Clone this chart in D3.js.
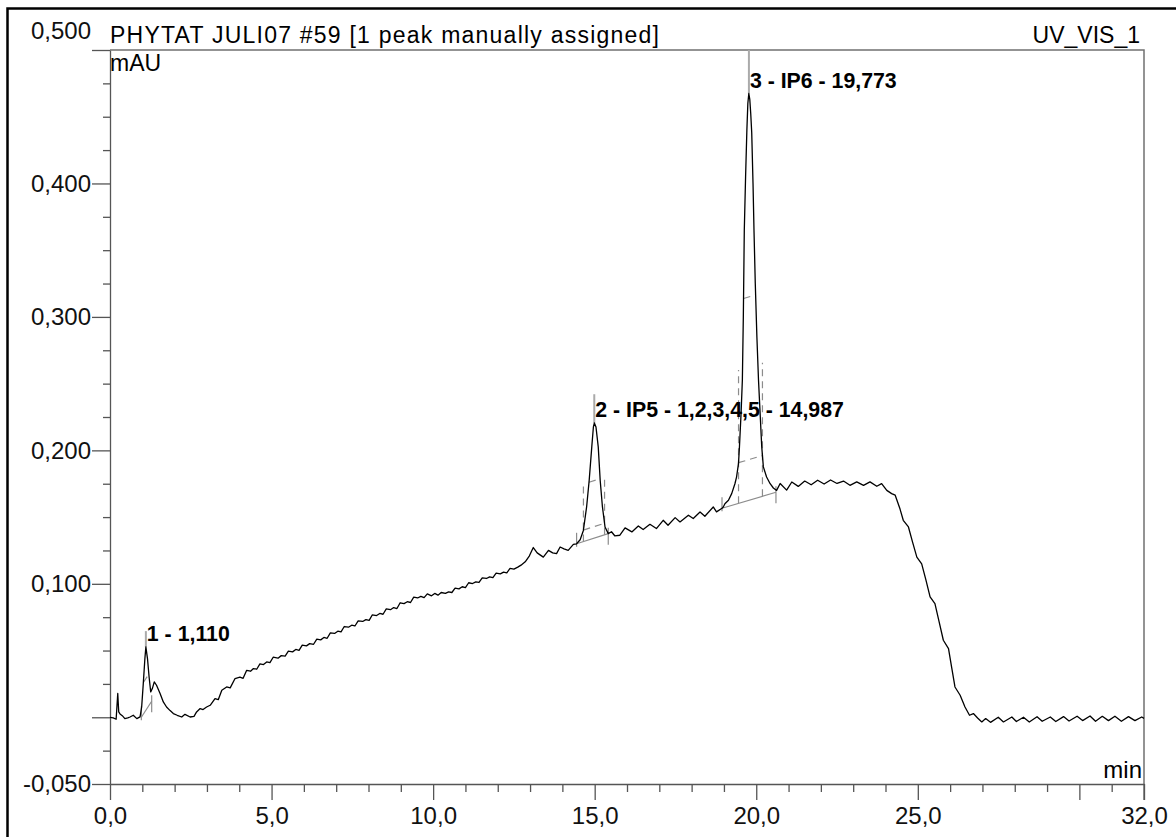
<!DOCTYPE html>
<html>
<head>
<meta charset="utf-8">
<script src="https://d3js.org/d3.v7.min.js"></script>
<style>
body { margin: 0; background: #fff; }
svg { display: block; font-family: "Liberation Sans", Arial, Helvetica, sans-serif; }
</style>
</head>
<body>
<svg width="1176" height="837"></svg>
<script>
// ****** Data ******
// Texts
var titleText = "PHYTAT JULI07 #59 [1 peak manually assigned]";
var channelText = "UV_VIS_1";
var yUnitText = "mAU";
var xUnitText = "min";

// Axis ticks (labels with comma decimals, some major ticks without label)
var yMajorTicks = [0.5, 0.4, 0.3, 0.2, 0.1, 0, -0.05];
var yUnlabeled = [0];
var xMajorTicks = [0, 5, 10, 15, 20, 25, 30, 32];
var xUnlabeled = [30];

// Trace, [min, signal], piece by piece
var traceStart = [[0.00, 0.0000], [0.10, -0.0005], [0.19, -0.0015], [0.24, 0.0178], [0.27, 0.0040],
    [0.31, 0.0025], [0.38, 0.0012], [0.46, -0.0010], [0.55, -0.0005], [0.62, 0.0002], [0.72, 0.0015],
    [0.83, -0.0010], [0.93, 0.0003]];
var tracePeak1 = [[0.98, 0.0077], [1.03, 0.0252], [1.08, 0.0440], [1.11, 0.0527], [1.16, 0.0440],
    [1.21, 0.0302], [1.26, 0.0190], [1.31, 0.0215], [1.37, 0.0265], [1.44, 0.0240], [1.55, 0.0178],
    [1.65, 0.0115], [1.75, 0.0077], [1.86, 0.0050], [1.96, 0.0028], [2.08, 0.0015], [2.22, 0.0002],
    [2.32, 0.0022], [2.48, 0.0002], [2.60, 0.0007]];
var traceRamp = [[2.68, 0.0040], [2.79, 0.0065], [2.88, 0.0058], [2.99, 0.0077], [3.10, 0.0090],
    [3.25, 0.0140], [3.35, 0.0132], [3.46, 0.0202], [3.61, 0.0227], [3.72, 0.0220], [3.87, 0.0290],
    [4.02, 0.0300], [4.12, 0.0292], [4.23, 0.0352], [4.35, 0.0345], [4.44, 0.0365], [4.54, 0.0360],
    [4.64, 0.0400], [4.75, 0.0395], [4.85, 0.0415], [4.95, 0.0410], [5.05, 0.0450], [5.20, 0.0443],
    [5.30, 0.0462], [5.42, 0.0458], [5.52, 0.0495], [5.65, 0.0490], [5.75, 0.0508], [5.85, 0.0502],
    [5.95, 0.0540], [6.08, 0.0535], [6.18, 0.0552], [6.30, 0.0547], [6.40, 0.0585], [6.52, 0.0580],
    [6.62, 0.0598], [6.72, 0.0592], [6.82, 0.0632], [6.95, 0.0628], [7.05, 0.0645], [7.15, 0.0640],
    [7.25, 0.0680], [7.38, 0.0675], [7.48, 0.0690], [7.58, 0.0684], [7.68, 0.0722], [7.82, 0.0718],
    [7.92, 0.0732], [8.02, 0.0726], [8.12, 0.0768], [8.25, 0.0762], [8.35, 0.0778], [8.45, 0.0772],
    [8.55, 0.0812], [8.68, 0.0806], [8.78, 0.0822], [8.88, 0.0815], [8.98, 0.0858], [9.10, 0.0852],
    [9.20, 0.0866], [9.30, 0.0860], [9.40, 0.0900], [9.52, 0.0894], [9.62, 0.0906], [9.72, 0.0896],
    [9.82, 0.0925], [9.95, 0.0910], [10.05, 0.0928], [10.15, 0.0915], [10.25, 0.0935], [10.38, 0.0928],
    [10.48, 0.0940], [10.58, 0.0935], [10.68, 0.0968], [10.80, 0.0962], [10.90, 0.0978], [11.00, 0.0972],
    [11.10, 0.1008], [11.22, 0.1002], [11.32, 0.1015], [11.42, 0.1010], [11.52, 0.1045], [11.65, 0.1040],
    [11.75, 0.1052], [11.85, 0.1046], [11.95, 0.1080], [12.08, 0.1075], [12.18, 0.1088], [12.28, 0.1082],
    [12.38, 0.1115], [12.50, 0.1110], [12.62, 0.1125], [12.72, 0.1140], [12.85, 0.1165], [12.98, 0.1210],
    [13.10, 0.1272], [13.22, 0.1232], [13.41, 0.1200], [13.57, 0.1251], [13.70, 0.1232], [13.82, 0.1226],
    [13.93, 0.1276], [14.05, 0.1262], [14.18, 0.1251], [14.34, 0.1296]];
var tracePeak2 = [[14.44, 0.1300], [14.55, 0.1330], [14.65, 0.1400], [14.75, 0.1576], [14.83, 0.1776],
    [14.91, 0.2026], [14.96, 0.2175], [14.99, 0.2205], [15.04, 0.2175], [15.11, 0.2026], [15.17, 0.1776],
    [15.24, 0.1576], [15.32, 0.1426], [15.42, 0.1376]];
var traceMid = [[15.52, 0.1390], [15.62, 0.1360], [15.78, 0.1364], [15.94, 0.1419], [16.15, 0.1389],
    [16.35, 0.1434], [16.50, 0.1407], [16.71, 0.1446], [16.91, 0.1414], [17.12, 0.1476], [17.27, 0.1439],
    [17.49, 0.1496], [17.64, 0.1464], [17.90, 0.1514], [18.05, 0.1489], [18.26, 0.1538], [18.41, 0.1506],
    [18.67, 0.1576], [18.77, 0.1539], [18.94, 0.1566]];
var tracePeak3 = [[18.98, 0.1576], [19.03, 0.1600], [19.14, 0.1626], [19.24, 0.1676], [19.34, 0.1750],
    [19.39, 0.1800], [19.45, 0.1900], [19.48, 0.2026], [19.53, 0.2276], [19.57, 0.2525], [19.60, 0.3000],
    [19.63, 0.3650], [19.67, 0.4050], [19.71, 0.4400], [19.74, 0.4600], [19.77, 0.4674], [19.80, 0.4630],
    [19.83, 0.4520], [19.86, 0.4380], [19.90, 0.4000], [19.93, 0.3650], [19.97, 0.3250], [20.02, 0.2850],
    [20.07, 0.2525], [20.12, 0.2276], [20.17, 0.2026], [20.22, 0.1876], [20.32, 0.1800], [20.43, 0.1750],
    [20.53, 0.1718], [20.63, 0.1700]];
var tracePlateau = [[20.74, 0.1752], [20.94, 0.1702], [21.10, 0.1763], [21.30, 0.1730], [21.50, 0.1770],
    [21.70, 0.1742], [21.90, 0.1776], [22.10, 0.1748], [22.30, 0.1778], [22.50, 0.1752], [22.70, 0.1770],
    [22.90, 0.1738], [23.11, 0.1764], [23.32, 0.1738], [23.52, 0.1764], [23.73, 0.1731], [23.88, 0.1751],
    [24.04, 0.1700], [24.19, 0.1676], [24.30, 0.1664]];
var traceFall = [[24.45, 0.1560], [24.55, 0.1476], [24.71, 0.1426], [24.84, 0.1310], [24.97, 0.1200],
    [25.12, 0.1150], [25.25, 0.1030], [25.38, 0.0902], [25.53, 0.0852], [25.66, 0.0715], [25.79, 0.0577],
    [25.95, 0.0515], [26.05, 0.0370], [26.15, 0.0227], [26.31, 0.0165], [26.46, 0.0077], [26.60, 0.0015],
    [26.72, 0.0028], [26.85, -0.0005], [26.98, -0.0035]];
var traceTail = [[27.10, -0.0010], [27.25, -0.0038], [27.49, 0.0000], [27.65, -0.0035], [27.91, 0.0002],
    [28.05, -0.0032], [28.27, 0.0000], [28.45, -0.0036], [28.69, 0.0004], [28.85, -0.0030], [29.10, 0.0002],
    [29.27, -0.0032], [29.51, 0.0005], [29.68, -0.0028], [29.93, 0.0008], [30.10, -0.0025], [30.33, 0.0010],
    [30.50, -0.0030], [30.71, 0.0007], [30.90, -0.0025], [31.10, 0.0008], [31.30, -0.0030], [31.52, 0.0005],
    [31.72, -0.0025], [31.93, 0.0002], [32.00, -0.0008]];

// Peak table
var peakLabels = ["1 - 1,110", "2 - IP5 - 1,2,3,4,5 - 14,987", "3 - IP6 - 19,773"];
var peakRT = [1.110, 14.987, 19.773];
var peakApex = [0.0527, 0.2205, 0.4674];
var peakStart = [0.97, 14.44, 18.94];
var peakEnd = [1.29, 15.42, 20.61];
var peakStartValue = [0.0000, 0.1300, 0.1566];
var peakEndValue = [0.0120, 0.1376, 0.1686];

// ****** Chart ******
var svg = d3.select("svg"),
    width = +svg.attr("width"),
    height = +svg.attr("height");

var plotLeft = 110, plotRight = 1144, plotTop = 50, plotBottom = 784;
var color_frame = "#707070";
var color_marker = "#8c8c8c";

var x = d3.scaleLinear().domain([0, 32]).range([plotLeft, plotRight]);
var y = d3.scaleLinear().domain([-0.05, 0.5]).range([plotBottom, plotTop]);

var locale = d3.formatLocale({decimal: ",", thousands: ".", grouping: [3], currency: ["", ""], minus: "-"});
var fmtY = locale.format(".3f"),
    fmtX = locale.format(".1f");

// Outer frame, cut off at the right and bottom edges
svg.append("path")
    .attr("d", "M7.5," + (height + 5) + "V8.5H" + (width + 5))
    .attr("fill", "none")
    .attr("stroke", "#000")
    .attr("stroke-width", 2.5);

// Top and right side of the plot box
svg.append("path")
    .attr("d", "M" + plotLeft + "," + plotTop + "H" + plotRight + "V" + (plotBottom + 16))
    .attr("fill", "none")
    .attr("stroke", color_frame)
    .attr("stroke-width", 1.5);

// Y axis: minor ticks every 0,025 then the major ones
var yMinor = d3.range(-1, 20).filter(i => i % 4 !== 0).map(i => i * 0.025);
svg.append("g")
    .attr("transform", "translate(" + plotLeft + ",0)")
    .call(d3.axisLeft(y).tickValues(yMinor).tickSize(7).tickSizeOuter(0).tickFormat(""))
    .call(g => g.select(".domain").remove());

var yAxis = svg.append("g")
    .attr("transform", "translate(" + plotLeft + ",0)")
    .call(d3.axisLeft(y)
        .tickValues(yMajorTicks)
        .tickSize(18)
        .tickSizeOuter(0)
        .tickPadding(1)
        .tickFormat(d => yUnlabeled.indexOf(d) >= 0 ? "" : fmtY(d)));

// X axis
var xMinor = d3.range(1, 32).filter(i => i % 5 !== 0);
svg.append("g")
    .attr("transform", "translate(0," + plotBottom + ")")
    .call(d3.axisBottom(x).tickValues(xMinor).tickSize(8).tickSizeOuter(0).tickFormat(""))
    .call(g => g.select(".domain").remove());

var xAxis = svg.append("g")
    .attr("transform", "translate(0," + plotBottom + ")")
    .call(d3.axisBottom(x)
        .tickValues(xMajorTicks)
        .tickSize(16)
        .tickSizeOuter(0)
        .tickPadding(7)
        .tickFormat(d => xUnlabeled.indexOf(d) >= 0 ? "" : fmtX(d)));

svg.selectAll(".tick line, .domain")
    .attr("stroke", "#555")
    .attr("stroke-width", 1.3);

svg.selectAll(".tick text")
    .attr("font-family", null)
    .attr("font-size", 24)
    .attr("fill", "#111");

// The top y label sits above its tick
yAxis.selectAll(".tick text")
    .filter(d => d === 0.5)
    .attr("y", -19);

// Header texts
svg.append("text")
    .attr("x", plotLeft)
    .attr("y", 43)
    .attr("font-size", 23)
    .attr("textLength", 549)
    .attr("lengthAdjust", "spacing")
    .text(titleText);

svg.append("text")
    .attr("x", plotRight - 4)
    .attr("y", 43)
    .attr("text-anchor", "end")
    .attr("font-size", 23)
    .text(channelText);

svg.append("text")
    .attr("x", plotLeft)
    .attr("y", 71)
    .attr("font-size", 23)
    .text(yUnitText);

svg.append("text")
    .attr("x", plotRight - 2)
    .attr("y", 778)
    .attr("text-anchor", "end")
    .attr("font-size", 24)
    .text(xUnitText);

// ****** Trace ******
var trace = [].concat(traceStart, tracePeak1, traceRamp, tracePeak2, traceMid,
    tracePeak3, tracePlateau, traceFall, traceTail);

var line = d3.line()
    .x(d => x(d[0]))
    .y(d => y(d[1]));

// Peak markers (below the trace)
var marks = svg.append("g")
    .attr("fill", "none")
    .attr("stroke", color_marker)
    .attr("stroke-width", 1.2);

// Baseline value under a peak at time t
function baseAt(i, t) {
    var f = (t - peakStart[i]) / (peakEnd[i] - peakStart[i]);
    return peakStartValue[i] + f * (peakEndValue[i] - peakStartValue[i]);
}

// Where the trace crosses a level (relative to the peak baseline) left and right of the apex
function crossings(i, frac) {
    var h = peakApex[i] - baseAt(i, peakRT[i]);
    var pts = trace.filter(d => d[0] >= peakStart[i] && d[0] <= peakEnd[i]);
    var level = d => baseAt(i, d[0]) + frac * h;
    var k = d3.maxIndex(pts, d => d[1]);
    var res = [];
    for (var j = k; j > 0; j--) {
        if (pts[j - 1][1] < level(pts[j - 1])) {
            res.push(interp(pts[j - 1], pts[j], level));
            break;
        }
    }
    for (var j = k; j < pts.length - 1; j++) {
        if (pts[j + 1][1] < level(pts[j + 1])) {
            res.push(interp(pts[j], pts[j + 1], level));
            break;
        }
    }
    return res;
}

function interp(a, b, level) {
    var da = a[1] - level(a), db = b[1] - level(b);
    var t = a[0] + (b[0] - a[0]) * da / (da - db);
    return [t, a[1] + (b[1] - a[1]) * (t - a[0]) / (b[0] - a[0])];
}

peakRT.forEach(function(rt, i) {
    var y0 = y(peakStartValue[i]), y1 = y(peakEndValue[i]);
    var h = peakApex[i] - baseAt(i, rt);

    // baseline and delimiters
    marks.append("line")
        .attr("x1", x(peakStart[i])).attr("y1", y0)
        .attr("x2", x(peakEnd[i])).attr("y2", y1);
    marks.append("line")
        .attr("x1", x(peakStart[i])).attr("y1", y0 + 3)
        .attr("x2", x(peakStart[i])).attr("y2", y0 - 11);
    marks.append("line")
        .attr("x1", x(peakEnd[i])).attr("y1", y1 - 6)
        .attr("x2", x(peakEnd[i])).attr("y2", y1 + 11);

    // widths at 10% and 50% height, dashed
    var c10 = crossings(i, 0.1), c50 = crossings(i, 0.5);
    [c10, c50].forEach(function(c) {
        if (c.length < 2) return;
        marks.append("line")
            .attr("stroke-dasharray", "7,5")
            .attr("x1", x(c[0][0])).attr("y1", y(c[0][1]))
            .attr("x2", x(c[1][0])).attr("y2", y(c[1][1]));
    });
    if (c10.length === 2) {
        var up = Math.min(0.5 * h, 0.1);
        c10.forEach(function(c) {
            marks.append("line")
                .attr("stroke-dasharray", "7,5")
                .attr("x1", x(c[0])).attr("y1", y(baseAt(i, c[0])))
                .attr("x2", x(c[0])).attr("y2", y(baseAt(i, c[0]) + up));
        });
    }

    // retention time marker above the apex
    marks.append("line")
        .attr("stroke", "#aaa")
        .attr("stroke-width", 2)
        .attr("x1", x(rt)).attr("y1", y(peakApex[i]))
        .attr("x2", x(rt)).attr("y2", Math.max(plotTop, y(peakApex[i] + 0.25 * h)));
});

svg.append("path")
    .datum(trace)
    .attr("fill", "none")
    .attr("stroke", "#000")
    .attr("stroke-width", 1.3)
    .attr("stroke-linejoin", "round")
    .attr("d", line);

// Peak labels
svg.append("g")
    .selectAll("text")
    .data(peakLabels)
    .join("text")
        .attr("x", (d, i) => x(peakRT[i]) + 1)
        .attr("y", (d, i) => y(peakApex[i]) - 6)
        .attr("font-size", 21.3)
        .attr("font-weight", "bold")
        .text(d => d);
</script>
</body>
</html>
